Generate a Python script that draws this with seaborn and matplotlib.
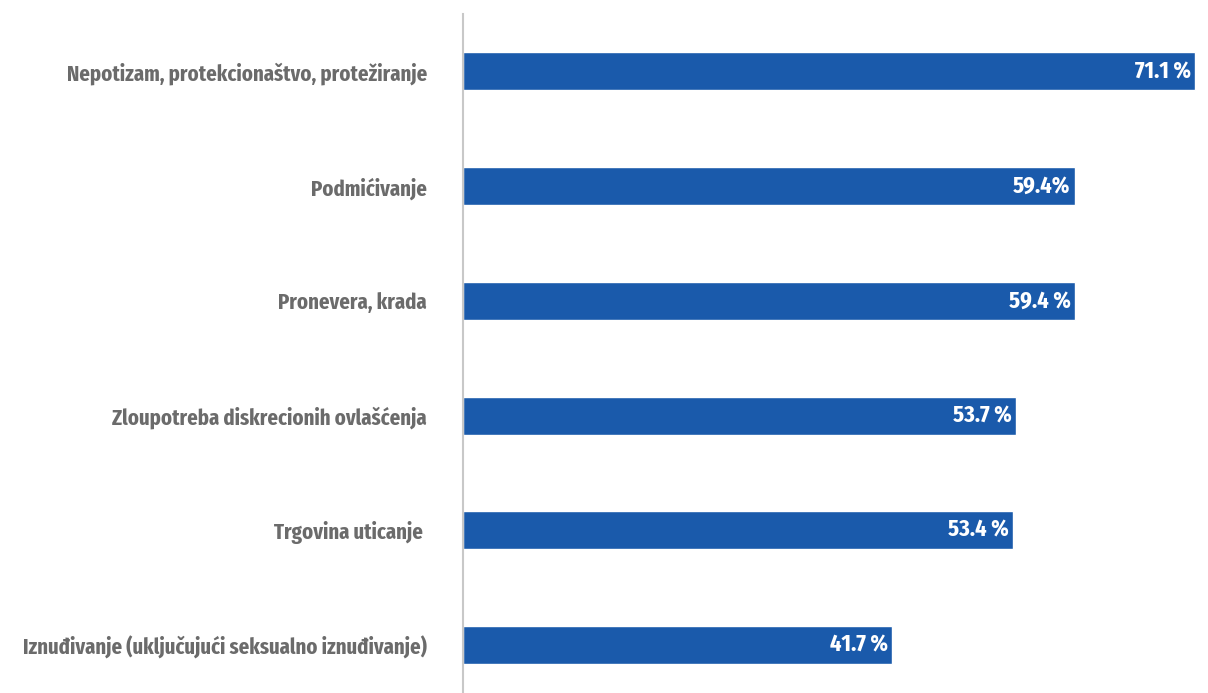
import matplotlib
matplotlib.use("Agg")
import matplotlib.pyplot as plt
import seaborn as sns
import pandas as pd

categories = [
    "Nepotizam, protekcionaštvo, protežiranje",
    "Podmićivanje",
    "Pronevera, krada",
    "Zloupotreba diskrecionih ovlašćenja",
    "Trgovina uticanje ",
    "Iznuđivanje (uključujući seksualno iznuđivanje)",
]
values = [71.1, 59.4, 59.4, 53.7, 53.4, 41.7]
value_labels = ["71.1 %", "59.4%", "59.4 %", "53.7 %", "53.4 %", "41.7 %"]

sns.set_theme(style="white")
plt.rcParams["font.family"] = ["Fira Sans Extra Condensed", "DejaVu Sans"]

df = pd.DataFrame({"category": categories, "value": values})

fig = plt.figure(figsize=(12.08, 6.93), dpi=100)
ax = fig.add_axes([463 / 1208, 0.0, (1200 - 463) / 1208, 679 / 693])

sns.barplot(data=df, y="category", x="value", orient="h", color="#1a5aab",
            saturation=1, width=0.33, ax=ax)

ax.set_xlim(0, 71.1 * 737 / 732)
ax.set_ylim(5.418, -0.5)

# value labels inside the bar ends
for i, (v, lab) in enumerate(zip(values, value_labels)):
    ax.annotate(lab, xy=(v, i), xytext=(-3, 0), textcoords="offset points",
                ha="right", va="center", color="white",
                fontsize=17.5, fontweight="bold")

ax.set_xlabel("")
ax.set_ylabel("")
ax.set_xticks([])
ax.tick_params(axis="y", length=0, pad=26)
for t in ax.get_yticklabels():
    t.set_fontsize(16.2)
    t.set_fontweight("bold")
    t.set_color("#6b6b6b")

for s in ["top", "right", "bottom"]:
    ax.spines[s].set_visible(False)
ax.spines["left"].set_color("#c8c8c8")
ax.spines["left"].set_linewidth(1.5)

fig.savefig("out.png", dpi=100)
